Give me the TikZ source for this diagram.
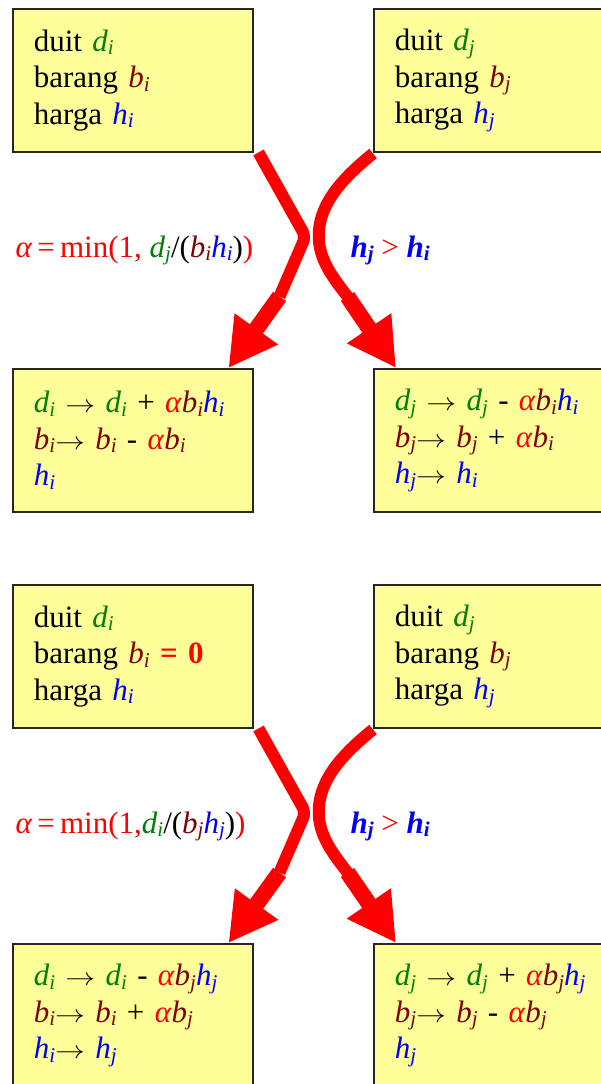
\documentclass[tikz,border=0pt]{standalone}
\usepackage{fontspec}
\setmainfont{Liberation Serif}
\usepackage{tikz}
\usetikzlibrary{arrows.meta,positioning,calc}
\usepackage{xcolor}
\definecolor{boxYellow}{HTML}{FFFF99}
\definecolor{duitGreen}{HTML}{008000}
\definecolor{barangRed}{HTML}{800000}
\definecolor{hargaBlue}{HTML}{0000FF}
\definecolor{alphaRed}{HTML}{FF0000}

\newcommand{\idx}[1]{\raisebox{-3.5pt}{\fontsize{21}{21}\selectfont #1}}
\newcommand{\duit}[1]{\textcolor{duitGreen}{\itshape d\idx{#1}}}
\newcommand{\barang}[1]{\textcolor{barangRed}{\itshape b\idx{#1}}}
\newcommand{\harga}[1]{\textcolor{hargaBlue}{\itshape h\idx{#1}}}
\newcommand{\hargabf}[1]{\textcolor{hargaBlue}{\bfseries\itshape h\idx{#1}}}
\newcommand{\alf}{\textcolor{alphaRed}{\textit{α}}}
\newcommand{\toarr}{\scalebox{1.2}[1]{$\rightarrow$}}

\begin{document}
\begin{tikzpicture}[
  x=1pt, y=-1pt,
  font=\fontsize{31}{36.5}\selectfont,
  >=Stealth,
  agent/.style={draw=black!85, line width=1.5pt, fill=boxYellow, anchor=north west,
    minimum width=240pt, minimum height=143pt, text width=198pt, inner xsep=21pt, align=left},
  swap/.style={draw=alphaRed, line width=12pt},
  swaphead/.style={draw=alphaRed, line width=16pt,
    -{Triangle[length=48pt, width=50pt]}}
]
  \useasboundingbox (0,0) rectangle (600,1084);

  % ----------------------------------------------------
  % CASE 1: both agents hold goods
  % ----------------------------------------------------
  \node[agent] (topI) at (12,8) {duit \duit{i}\\ barang \barang{i}\\ harga \harga{i}};
  \node[agent] (topJ) at (373,8) {duit \duit{j}\\ barang \barang{j}\\ harga \harga{j}};

  \node[agent] (midI) at (12,368) {\duit{i} \toarr{} \duit{i} + \alf\barang{i}\harga{i}\\
    \barang{i}\toarr{} \barang{i} - \alf\barang{i}\\ \harga{i}};
  \node[agent] (midJ) at (373,368) {\duit{j} \toarr{} \duit{j} - \alf\barang{i}\harga{i}\\
    \barang{j}\toarr{} \barang{j} + \alf\barang{i}\\ \harga{j}\toarr{} \harga{i}};

  \draw[swap, rounded corners=6pt] ($(topI.south east)+(5,0)$) -- ++(47,84) -- ++(-26,60)
    coordinate (bendTopI);
  \draw[swaphead] (bendTopI) -- ($(midI.north east)+(-25,0)$);
  \draw[swap] ($(topJ.south west)+(0,1)$) .. controls +(-32,26) and +(-3,-35) .. ++(-54,88)
    .. controls +(2,22) and +(-13,-17) .. ++(30,57) coordinate (bendTopJ);
  \draw[swaphead] ($(bendTopJ)+(-1.5,-2)$) -- ($(midJ.north west)+(23,0)$);

  \node[anchor=base west, text=alphaRed] (rateTop) at (12,257)
    {\alf\,=\,min(1, \duit{j}\textcolor{black}{/(}\barang{i}\harga{i}\textcolor{black}{)})};
  \node[anchor=base west] (condTop) at (347,257)
    {\hargabf{j} \textcolor{alphaRed}{>} \hargabf{i}};

  % ----------------------------------------------------
  % CASE 2: agent i has no goods left
  % ----------------------------------------------------
  \node[agent] (lowI) at (12,584) {duit \duit{i}\\ barang \barang{i} \textcolor{alphaRed}{\textbf{= 0}}\\ harga \harga{i}};
  \node[agent] (lowJ) at (373,584) {duit \duit{j}\\ barang \barang{j}\\ harga \harga{j}};

  \node[agent] (endI) at (12,943) {\duit{i} \toarr{} \duit{i} - \alf\barang{j}\harga{j}\\
    \barang{i}\toarr{} \barang{i} + \alf\barang{j}\\ \harga{i}\toarr{} \harga{j}};
  \node[agent] (endJ) at (373,943) {\duit{j} \toarr{} \duit{j} + \alf\barang{j}\harga{j}\\
    \barang{j}\toarr{} \barang{j} - \alf\barang{j}\\ \harga{j}};

  \draw[swap, rounded corners=6pt] ($(lowI.south east)+(5,0)$) -- ++(47,84) -- ++(-26,60)
    coordinate (bendLowI);
  \draw[swaphead] (bendLowI) -- ($(endI.north east)+(-25,0)$);
  \draw[swap] ($(lowJ.south west)+(0,1)$) .. controls +(-32,26) and +(-3,-35) .. ++(-54,88)
    .. controls +(2,22) and +(-13,-17) .. ++(30,57) coordinate (bendLowJ);
  \draw[swaphead] ($(bendLowJ)+(-1.5,-2)$) -- ($(endJ.north west)+(23,0)$);

  \node[anchor=base west, text=alphaRed] (rateLow) at (12,833)
    {\alf\,=\,min(1,\duit{i}\textcolor{black}{/(}\barang{j}\harga{j}\textcolor{black}{)})};
  \node[anchor=base west] (condLow) at (347,833)
    {\hargabf{j} \textcolor{alphaRed}{>} \hargabf{i}};

\end{tikzpicture}
\end{document}
